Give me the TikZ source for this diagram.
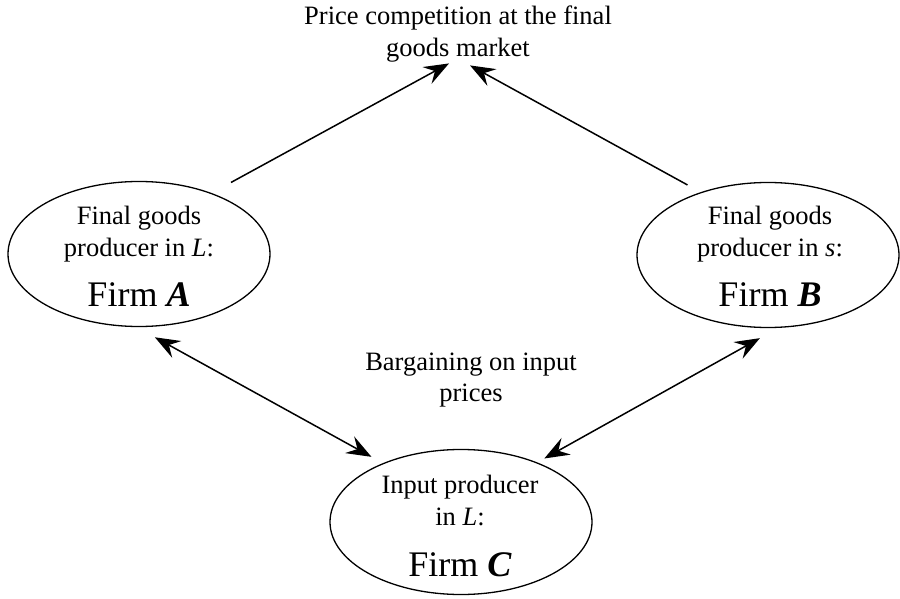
\documentclass[tikz,border=0pt]{standalone}
\usepackage{fontspec}
\setmainfont{Liberation Serif}
\usetikzlibrary{arrows.meta,shapes.geometric}
\newcommand{\firmname}[1]{{\fontsize{36}{42}\selectfont Firm \textbf{\textit{#1}}}}

\begin{document}
\begin{tikzpicture}[x=1pt, y=-1pt, font=\fontsize{26.5}{31.7}\selectfont,
    player/.style={ellipse, draw, line width=1.3pt, minimum width=262pt, minimum height=145pt, inner sep=0pt},
    lbl/.style={align=center, inner sep=2pt, anchor=base},
    flow/.style={-{Stealth[length=25pt,width=19pt,inset=9pt]}, line width=1.5pt},
    both/.style={{Stealth[length=25pt,width=19pt,inset=9pt]}-{Stealth[length=25pt,width=19pt,inset=9pt]}, line width=1.5pt}]
  % canvas
  \useasboundingbox (0,0) rectangle (900,599);

  % ---------------- the three firms (base = last line)
  \node[player] (A) at (139,254) {};
  \node[player] (B) at (768,255) {};
  \node[player] (C) at (461,522) {};
  \node[lbl] (Atext) at (139,306.7) {Final goods\\producer in \textit{L}:\\[18.5pt]\firmname{A}};
  \node[lbl] (Btext) at (770,306.7) {Final goods\\producer in \textit{s}:\\[18.5pt]\firmname{B}};
  \node[lbl] (Ctext) at (460,576.7) {Input producer\\in \textit{L}:\\[20pt]\firmname{C}};

  % ---------------- labels
  \node[lbl] (T) at (458,56.5) {Price competition at the final\\goods market};
  \node[lbl] (bargain) at (471,401.7) {Bargaining on input\\prices};

  % ---------------- arrows
  \draw[flow, shorten <=22pt] (A.40) -- ([xshift=-9pt,yshift=1pt]T.south);
  \draw[flow, shorten <=15pt] (B.137) -- ([xshift=12pt,yshift=-1pt]T.south);
  \draw[both, shorten <=21pt, shorten >=13pt] (A.-92) -- (C.143);
  \draw[both, shorten <=8pt, shorten >=21pt] (C.38) -- (B.-82);
\end{tikzpicture}
\end{document}
